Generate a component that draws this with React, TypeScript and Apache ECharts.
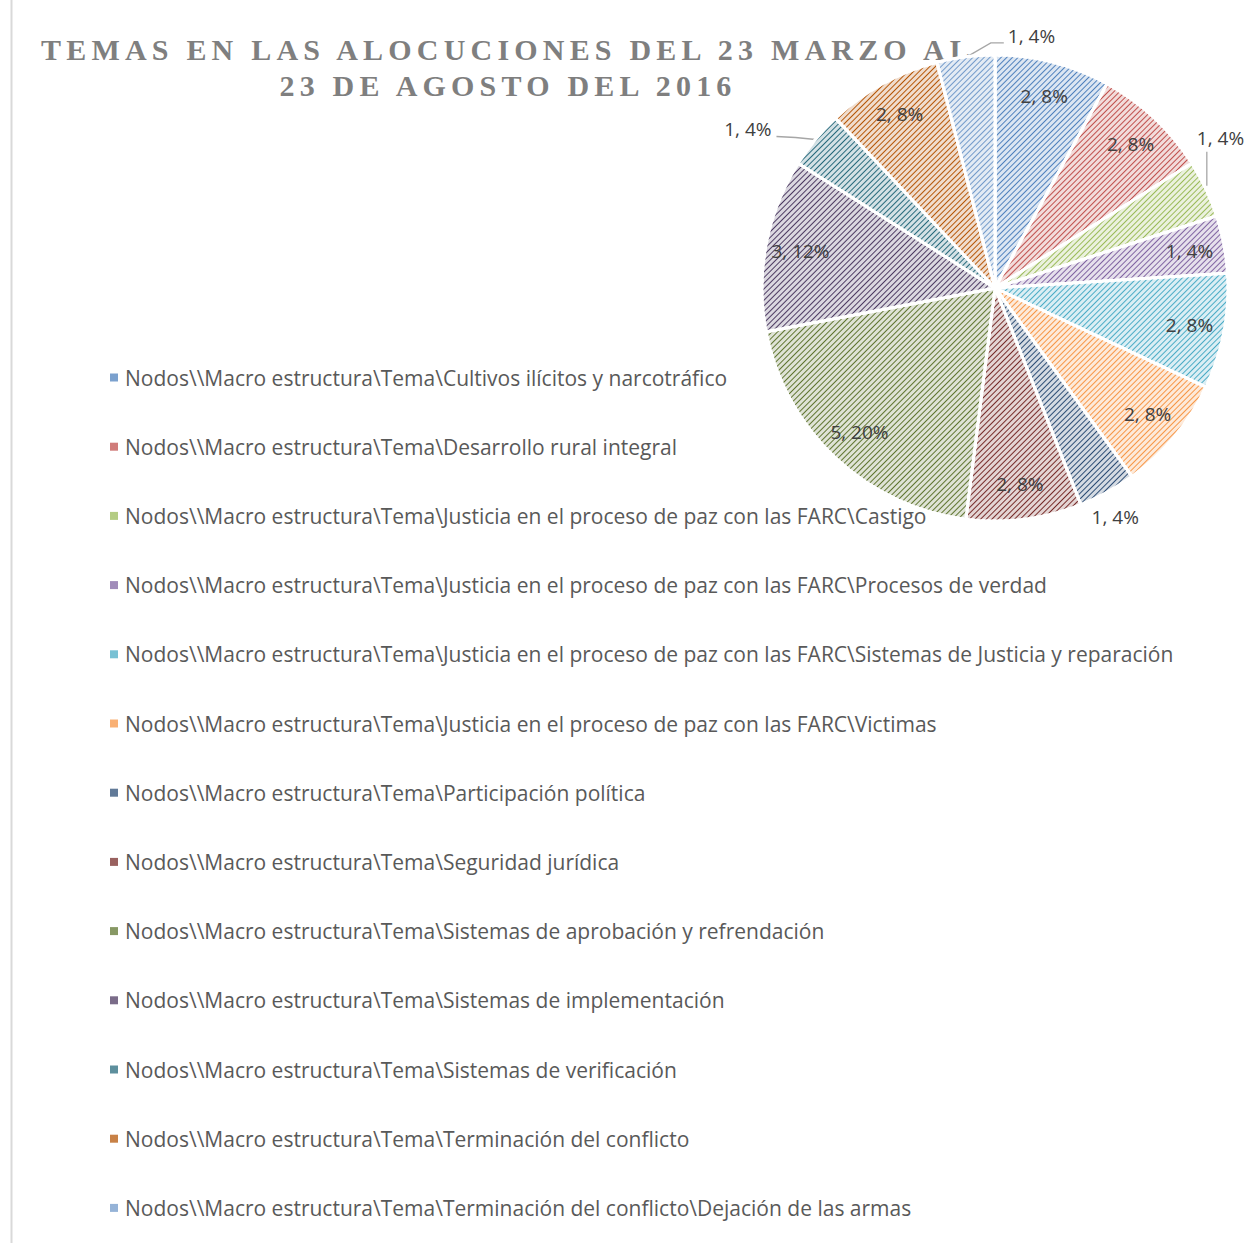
import React, { useEffect, useRef } from "react";
import * as echarts from "echarts";

const titleLines = ["TEMAS EN LAS ALOCUCIONES DEL 23 MARZO AL", "23 DE AGOSTO DEL 2016"];

const categories = [
  String.raw`Nodos\\Macro estructura\Tema\Cultivos ilícitos y narcotráfico`,
  String.raw`Nodos\\Macro estructura\Tema\Desarrollo rural integral`,
  String.raw`Nodos\\Macro estructura\Tema\Justicia en el proceso de paz con las FARC\Castigo`,
  String.raw`Nodos\\Macro estructura\Tema\Justicia en el proceso de paz con las FARC\Procesos de verdad`,
  String.raw`Nodos\\Macro estructura\Tema\Justicia en el proceso de paz con las FARC\Sistemas de Justicia y reparación`,
  String.raw`Nodos\\Macro estructura\Tema\Justicia en el proceso de paz con las FARC\Victimas`,
  String.raw`Nodos\\Macro estructura\Tema\Participación política`,
  String.raw`Nodos\\Macro estructura\Tema\Seguridad jurídica`,
  String.raw`Nodos\\Macro estructura\Tema\Sistemas de aprobación y refrendación`,
  String.raw`Nodos\\Macro estructura\Tema\Sistemas de implementación`,
  String.raw`Nodos\\Macro estructura\Tema\Sistemas de verificación`,
  String.raw`Nodos\\Macro estructura\Tema\Terminación del conflicto`,
  String.raw`Nodos\\Macro estructura\Tema\Terminación del conflicto\Dejación de las armas`,
];

const values = [2, 2, 1, 1, 2, 2, 1, 2, 5, 3, 1, 2, 1];

const baseColors = [
  "#4F81BD", "#C0504D", "#9BBB59", "#8064A2", "#4BACC6", "#F79646",
  "#2C4D75", "#772C2A", "#5F7530", "#4D3B62", "#276A7C", "#B65708", "#729ACA",
];

// whether the data label sits inside the slice (Excel best-fit)
const labelInside = [true, true, false, true, true, true, false, true, true, true, false, true, false];

function tint(hex: string, k: number) {
  const n = parseInt(hex.slice(1), 16);
  const r = (n >> 16) & 255, g = (n >> 8) & 255, b = n & 255;
  const m = (c: number) => Math.round(c + (255 - c) * k);
  return `rgb(${m(r)},${m(g)},${m(b)})`;
}

const FONT = "Open Sans";
const TITLE_FONT = "bold 30px 'Liberation Serif'";

const css = `
.piechart svg text[style*="Liberation Serif"],
.piechart svg text[font-family*="Liberation Serif"] { letter-spacing: 5.2px; }
`;

export default function App() {
  const ref = useRef<HTMLDivElement>(null);
  useEffect(() => {
    if (!ref.current) return;
    const chart = echarts.init(ref.current, undefined, { renderer: "svg" });
    const fmt = (p: any) => `${p.value}, ${Math.round(p.percent)}%`;
    const mainData = categories.map((name, i) => ({
      name,
      value: values[i],
      itemStyle: {
        color: tint(baseColors[i], 0.8),
        decal: {
          symbol: "rect",
          symbolSize: 1,
          color: baseColors[i],
          dashArrayX: [1, 0],
          dashArrayY: [1, 2.2],
          rotation: -Math.PI / 4,
        },
      },
      label: { show: !labelInside[i] },
      labelLine: { show: !labelInside[i] && i !== 6 },
    }));
    const labelData = categories.map((name, i) => ({
      name,
      value: values[i],
      label: { show: labelInside[i] },
    }));
    chart.setOption({
      animation: false,
      graphic: [
        {
          type: "line",
          shape: { x1: 11.5, y1: 0, x2: 11.5, y2: 1243 },
          style: { stroke: "#D9D9D9", lineWidth: 2 },
          silent: true,
        },
        {
          type: "text",
          x: 508,
          y: 49,
          style: {
            text: titleLines[0],
            font: TITLE_FONT,
            fill: "#7F7F7F",
            align: "center",
            verticalAlign: "middle",
          },
        },
        {
          type: "text",
          x: 508,
          y: 85,
          style: {
            text: titleLines[1],
            font: TITLE_FONT,
            fill: "#7F7F7F",
            align: "center",
            verticalAlign: "middle",
          },
        },
      ],
      legend: {
        orient: "vertical",
        left: 105,
        top: 362,
        data: categories.map((name, i) => ({
          name,
          itemStyle: { color: tint(baseColors[i], 0.25), decal: "none", borderWidth: 0 },
        })),
        icon: "rect",
        itemWidth: 8,
        itemHeight: 8,
        itemGap: 48.2,
        selectedMode: false,
        textStyle: { fontFamily: FONT, fontSize: 21, color: "#595959", lineHeight: 21, padding: [0, 0, 0, 2] },
      },
      series: [
        {
          type: "pie",
          center: [995, 288],
          radius: 233,
          startAngle: 90,
          clockwise: true,
          data: mainData,
          itemStyle: { borderColor: "#ffffff", borderWidth: 3 },
          emphasis: { disabled: true },
          label: {
            position: "outside",
            formatter: fmt,
            fontFamily: FONT,
            fontSize: 19,
            color: "#404040",
            overflow: "none",
          },
          labelLine: { lineStyle: { color: "#A6A6A6", width: 1.3 }, length: 10, length2: 20 },
          labelLayout: (params: any) => {
            const i = params.dataIndex;
            const p = params.labelLinePoints && params.labelLinePoints[0];
            if (!p) return {};
            const [x0, y0] = p;
            if (i === 2) {
              return {
                x: x0 - 9, y: y0 - 51, align: "left", verticalAlign: "middle",
                labelLinePoints: [[x0 + 1, y0 - 3], [x0 + 1, y0 - 20], [x0 + 1, y0 - 37]],
              };
            }
            if (i === 6) {
              return { x: x0 + 8, y: y0 + 25, align: "center", verticalAlign: "middle" };
            }
            if (i === 10) {
              return {
                x: x0 - 44, y: y0 - 10, align: "right", verticalAlign: "middle",
                labelLinePoints: [[x0, y0], [x0 - 20, y0 - 2], [x0 - 39, y0 - 3]],
              };
            }
            if (i === 12) {
              return {
                x: x0 + 42, y: y0 - 21, align: "left", verticalAlign: "middle",
                labelLinePoints: [[x0 + 1, y0], [x0 + 25, y0 - 14], [x0 + 38, y0 - 14]],
              };
            }
            return {};
          },
        },
        {
          type: "pie",
          center: [995, 288],
          radius: [190, 200],
          startAngle: 90,
          clockwise: true,
          silent: true,
          data: labelData,
          itemStyle: { color: "rgba(0,0,0,0)", borderWidth: 0 },
          emphasis: { disabled: true },
          label: {
            position: "inside",
            formatter: fmt,
            fontFamily: FONT,
            fontSize: 19,
            color: "#404040",
          },
          labelLine: { show: false },
        },
      ],
    });
    return () => chart.dispose();
  }, []);
  return (
    <>
      <style>{css}</style>
      <div
        ref={ref}
        className="piechart"
        style={{ position: "fixed", left: 0, top: 0, width: 1249, height: 1243, background: "#ffffff" }}
      />
    </>
  );
}
